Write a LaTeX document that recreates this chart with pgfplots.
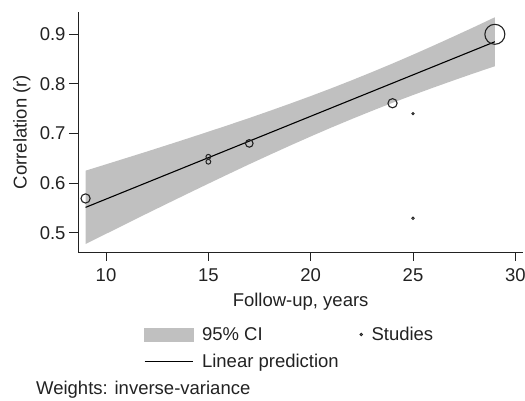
\documentclass[border=0pt]{standalone}
\usepackage{pgfplots}
\pgfplotsset{compat=1.18}
\usepackage{pgfplotstable}
\usepgfplotslibrary{fillbetween}
\usepackage{fontspec}
\setmainfont{Liberation Sans}
\definecolor{cigray}{RGB}{192,192,192}
\definecolor{txt}{RGB}{34,34,34}
\newcommand\fs{\fontsize{18.5bp}{22bp}\selectfont}

\pgfplotstableread{
x lo fit hi
9 0.4770 0.5510 0.6250
10 0.4976 0.5677 0.6378
11 0.5181 0.5844 0.6507
12 0.5386 0.6011 0.6636
13 0.5588 0.6178 0.6768
14 0.5789 0.6345 0.6901
15 0.5988 0.6512 0.7036
16 0.6185 0.6679 0.7173
17 0.6380 0.6846 0.7312
18 0.6570 0.7013 0.7456
19 0.6757 0.7180 0.7603
20 0.6940 0.7347 0.7754
21 0.7118 0.7514 0.7910
22 0.7290 0.7681 0.8072
23 0.7457 0.7848 0.8239
24 0.7619 0.8015 0.8411
25 0.7775 0.8182 0.8589
26 0.7926 0.8349 0.8772
27 0.8073 0.8516 0.8959
28 0.8217 0.8683 0.9149
29 0.8356 0.8850 0.9344
}\band

\begin{document}
\begin{tikzpicture}[font=\fs]
\begin{axis}[
  at={(0,0)}, anchor=south west,
  width=445.3bp, height=240bp, scale only axis,
  xmin=8.63, xmax=30.39, ymin=0.461, ymax=0.945,
  axis lines=left, axis line style={-, line width=1bp, color=txt},
  tick align=outside, major tick length=9bp,
  tick style={line width=1bp, color=txt},
  xtick={10,15,20,25,30}, ytick={0.5,0.6,0.7,0.8,0.9},
  yticklabel style={/pgf/number format/.cd, fixed, fixed zerofill, precision=1},
  /pgf/number format/assume math mode=true,
  ticklabel style={font=\fs, color=txt},
  xticklabel style={yshift=-4.5bp},
  xlabel={Follow-up, years}, ylabel={Correlation (r)},
  xlabel style={at={(axis description cs:0.5,-0.2279)}, anchor=base, inner sep=0pt, font=\fs, color=txt},
  ylabel style={at={(axis description cs:-0.1151,0.5)}, anchor=base, inner sep=0pt, font=\fs, color=txt},
  clip=false,
  legend columns=2,
  legend cell align=left,
  legend style={draw=none, fill=none, inner sep=0pt, outer sep=0pt,
    at={(axis description cs:0.1483,-0.3129)}, anchor=north west,
    font=\fs, text=txt, row sep=12bp,
    nodes={inner sep=0pt},
    /tikz/every odd column/.append style={column sep=8.6bp},
    /tikz/every even column/.append style={column sep=20.8bp}},
]
\addplot[name path=up, draw=none, forget plot] table[x=x, y=hi] {\band};
\addplot[name path=lo, draw=none, forget plot] table[x=x, y=lo] {\band};
\addplot[cigray, forget plot] fill between[of=up and lo];
\addplot[black, line width=1.1bp, forget plot] table[x=x, y=fit] {\band};

\addplot[only marks, mark=o, mark size=10bp, txt, line width=1.1bp, forget plot] coordinates {(29,0.900)};
\addplot[only marks, mark=o, mark size=4.6bp, txt, line width=1.1bp, forget plot] coordinates {(9,0.569) (24,0.761)};
\addplot[only marks, mark=o, mark size=3.8bp, txt, line width=1.1bp, forget plot] coordinates {(17,0.680)};
\addplot[only marks, mark=o, mark size=2.4bp, txt, line width=1bp, forget plot] coordinates {(15,0.653) (15,0.643)};
\addplot[only marks, mark=o, mark size=1.2bp, txt, line width=0.9bp, forget plot] coordinates {(25,0.740) (25,0.529)};

\addlegendimage{legend image code/.code={\fill[cigray] (0bp,-6.7bp) rectangle (48.3bp,6.7bp);}}
\addlegendentry{95\% CI}
\addlegendimage{legend image code/.code={\draw[txt, line width=0.9bp] (0bp,0bp) circle[radius=1.2bp];}}
\addlegendentry{Studies}
\addlegendimage{legend image code/.code={\draw[black, line width=1.1bp] (0bp,0bp) -- (48.3bp,0bp);}}
\addlegendentry{Linear prediction}

\node[anchor=base west, inner sep=0pt, text=txt, font=\fs] at (axis description cs:-0.0944,-0.5958) {Weights: inverse-variance};
\end{axis}
\pgfresetboundingbox
\useasboundingbox (-78bp,-149bp) rectangle (447bp,252bp);
\end{tikzpicture}
\end{document}
